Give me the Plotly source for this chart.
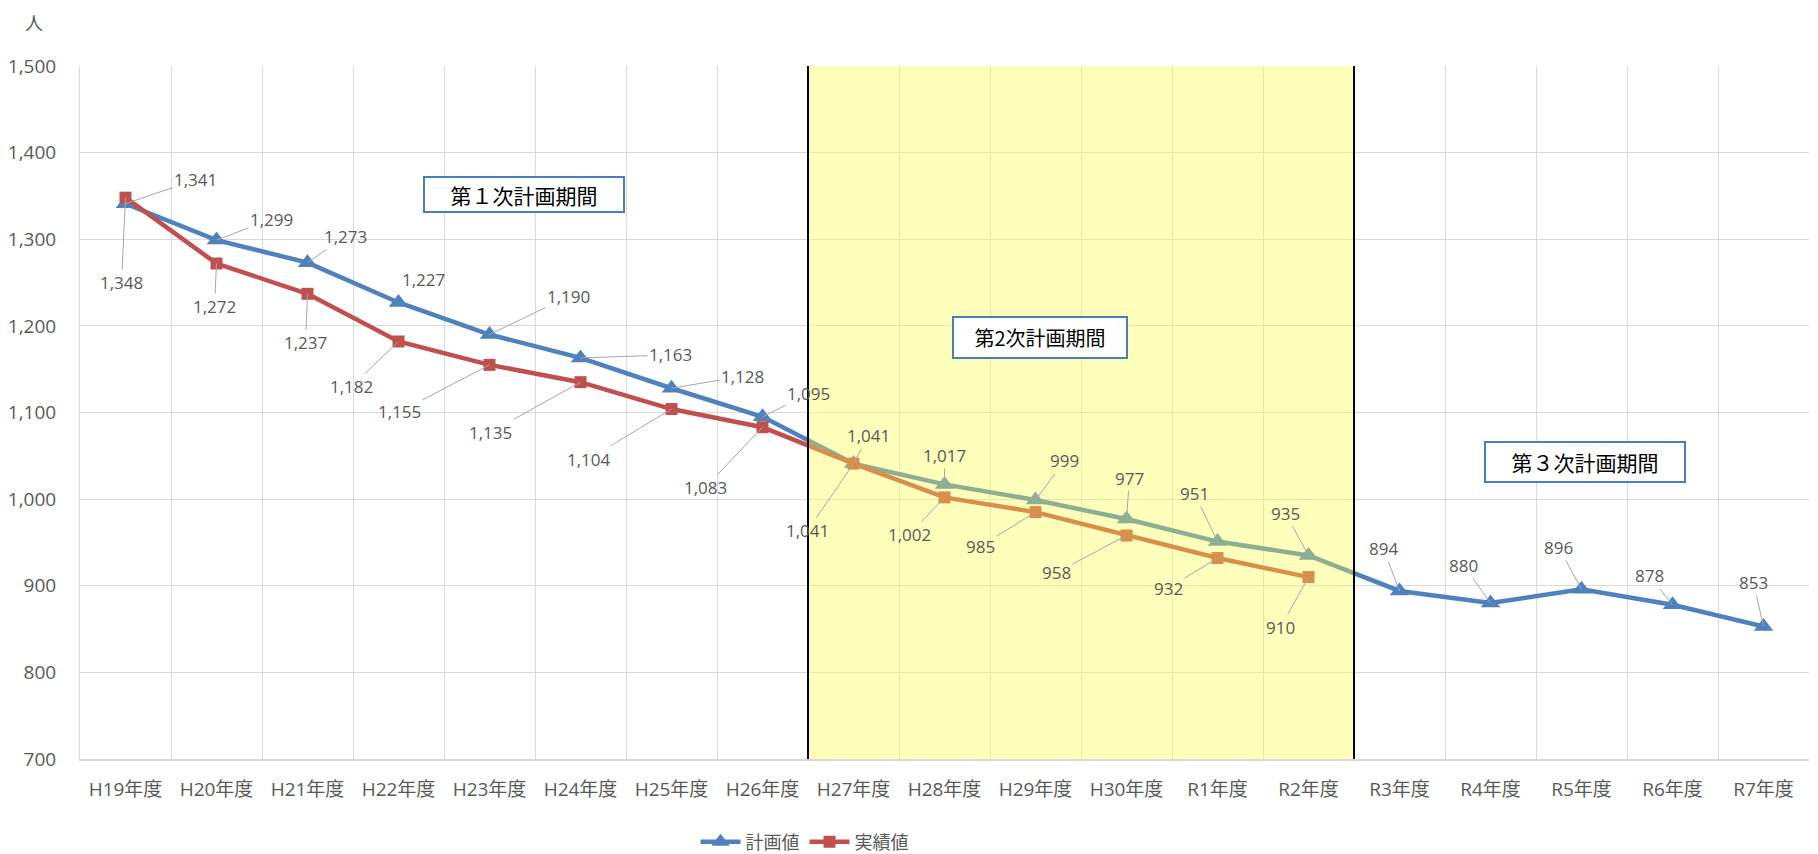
import plotly.graph_objects as go

categories = ["H19年度", "H20年度", "H21年度", "H22年度", "H23年度", "H24年度", "H25年度",
              "H26年度", "H27年度", "H28年度", "H29年度", "H30年度", "R1年度", "R2年度",
              "R3年度", "R4年度", "R5年度", "R6年度", "R7年度"]
plan_values = [1341, 1299, 1273, 1227, 1190, 1163, 1128, 1095, 1041, 1017, 999, 977, 951, 935,
               894, 880, 896, 878, 853]
actual_values = [1348, 1272, 1237, 1182, 1155, 1135, 1104, 1083, 1041, 1002, 985, 958, 932, 910]
series_names = ["計画値", "実績値"]
period_labels = ["第１次計画期間", "第2次計画期間", "第３次計画期間"]
y_unit = "人"

# label offsets (pixels) - styling only
plan_offsets = [(70, -24), (55, -21), (38, -26), (25, -23), (79, -38), (90, -3), (71, -12),
                (46, -23), (15, -28), (0, -29), (29, -39), (3, -41), (-23, -48), (-23, -42),
                (-16, -42), (-27, -38), (-23, -42), (-23, -29), (-10, -44)]
actual_offsets = [(-4, 85), (-2, 43), (-2, 49), (-47, 45), (-90, 47), (-90, 50), (-83, 50),
                  (-57, 60), (-46, 67), (-35, 37), (-55, 34), (-70, 37), (-49, 30), (-28, 50)]

BLUE = "#4F81BD"
RED = "#C0504D"
GREY_TXT = "#595959"
FONT = "Open Sans, Noto Sans CJK JP"
CJK = "Noto Sans CJK JP"

fig = go.Figure()
fig.add_trace(go.Scatter(
    x=categories, y=plan_values, name=series_names[0], mode="lines+markers",
    line=dict(color=BLUE, width=4.5),
    marker=dict(symbol="triangle-up", size=17, color=BLUE),
))
fig.add_trace(go.Scatter(
    x=categories[:len(actual_values)], y=actual_values, name=series_names[1], mode="lines+markers",
    line=dict(color=RED, width=4.5),
    marker=dict(symbol="square", size=12, color=RED),
))

annotations = []
for i, (c, v) in enumerate(zip(categories, plan_values)):
    ax, ay = plan_offsets[i]
    hide = (c == "H22年度")
    annotations.append(dict(
        x=c, y=v, xref="x", yref="y", text=f"{v:,}", showarrow=True,
        ax=ax, ay=ay, arrowhead=0, arrowwidth=1, standoff=0,
        arrowcolor="rgba(0,0,0,0)" if hide else "#A6A6A6",
        font=dict(family=FONT, size=17, color=GREY_TXT),
    ))
for i, v in enumerate(actual_values):
    ax, ay = actual_offsets[i]
    annotations.append(dict(
        x=categories[i], y=v, xref="x", yref="y", text=f"{v:,}", showarrow=True,
        ax=ax, ay=ay, arrowhead=0, arrowwidth=1, standoff=0, arrowcolor="#A6A6A6",
        font=dict(family=FONT, size=17, color=GREY_TXT),
    ))

# period boxes
box_specs = [(0.2568, 0.8145, 198, 33, 21), (0.5552, 0.6078, 172, 39, 20),
             (0.8704, 0.4283, 198, 38, 21)]
for lbl, (bx, by, bw, bh, fs) in zip(period_labels, box_specs):
    annotations.append(dict(
        x=bx, y=by, xref="paper", yref="paper", text=lbl, showarrow=False,
        xanchor="center", yanchor="middle", width=bw, height=bh,
        bgcolor="white", bordercolor="#4A7EBB", borderwidth=2, borderpad=0,
        font=dict(family=CJK, size=fs, color="black"),
    ))

annotations.append(dict(
    x=-0.0266, y=1.064, xref="paper", yref="paper", text=y_unit, showarrow=False,
    xanchor="center", yanchor="middle", font=dict(family=CJK, size=18, color=GREY_TXT),
))

shapes = [
    dict(type="rect", xref="x", yref="paper", x0=7.5, x1=13.5, y0=0, y1=1,
         fillcolor="rgba(255,255,70,0.36)", line=dict(width=0), layer="above"),
    dict(type="line", xref="x", yref="paper", x0=7.5, x1=7.5, y0=0, y1=1,
         line=dict(color="black", width=2), layer="above"),
    dict(type="line", xref="x", yref="paper", x0=13.5, x1=13.5, y0=0, y1=1,
         line=dict(color="black", width=2), layer="above"),
]

fig.update_layout(
    width=1818, height=854,
    margin=dict(l=80, r=9, t=66, b=95, autoexpand=False),
    paper_bgcolor="white", plot_bgcolor="white",
    font=dict(family=FONT, color=GREY_TXT),
    showlegend=True,
    legend=dict(orientation="h", x=0.356, y=-0.12, xanchor="left", yanchor="middle",
                font=dict(family=FONT, size=18, color=GREY_TXT), itemwidth=40,
                traceorder="normal"),
    annotations=annotations,
    shapes=shapes,
    xaxis=dict(
        type="category", categoryorder="array", categoryarray=categories,
        range=[-0.5, len(categories) - 0.5],
        tickson="boundaries", showgrid=True, gridcolor="#D9D9D9", gridwidth=1,
        showline=True, linecolor="#D9D9D9", linewidth=2, mirror=False,
        ticks="", ticklabelstandoff=12,
        tickfont=dict(family=FONT, size=19, color=GREY_TXT),
    ),
    yaxis=dict(
        range=[700, 1500], dtick=100, tickformat=",d",
        showgrid=True, gridcolor="#D9D9D9", gridwidth=1,
        showline=True, linecolor="#D9D9D9", linewidth=1, zeroline=False,
        ticks="", ticklabelstandoff=19,
        tickfont=dict(family=FONT, size=19, color=GREY_TXT),
    ),
)

fig.write_html("out.html")
